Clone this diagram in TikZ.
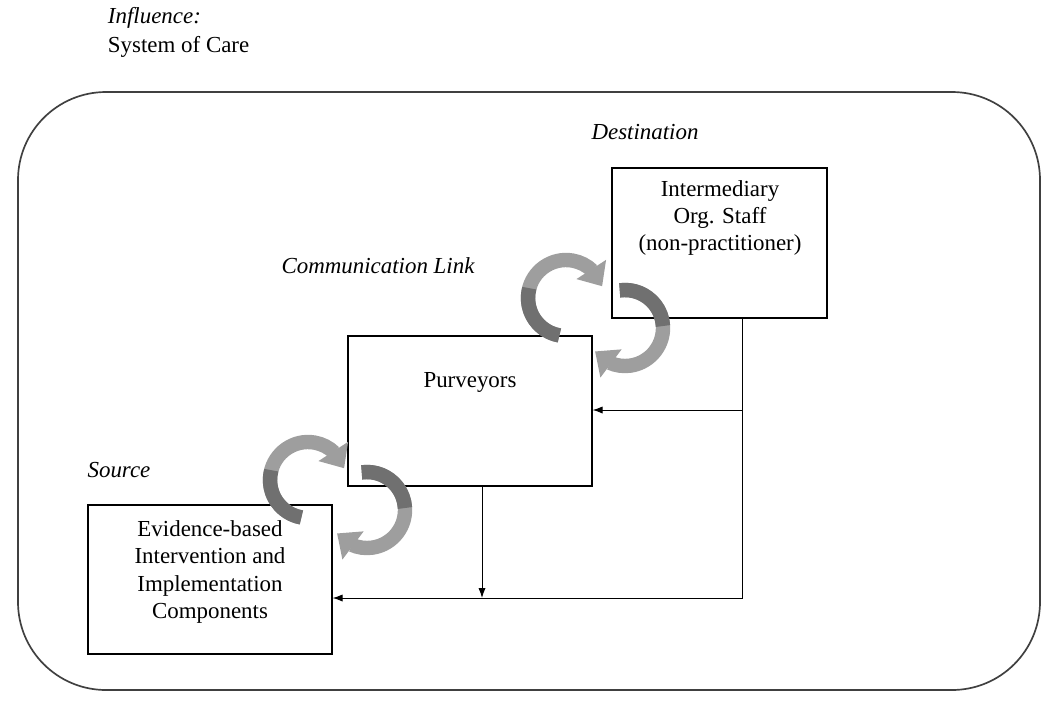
\documentclass[tikz,border=0pt]{standalone}
\usepackage{fontspec}
\setmainfont{Liberation Serif}
\usetikzlibrary{arrows.meta, bending}
\definecolor{ribbonlight}{RGB}{158,158,158}
\definecolor{ribbondark}{RGB}{112,112,112}
\newcommand{\diagfont}{\fontsize{16.3}{19.5}\selectfont}
\tikzset{
  box/.style = {draw, line width=0.8pt, rectangle, inner sep=0pt},
  lbl/.style = {font=\diagfont\itshape},
  txt/.style = {align=center},
  link/.style = {line width=0.7pt, -{Latex[length=0.25cm,width=0.18cm]}},
  ribbon/.style = {line width=0.36cm, ribbonlight, -{Triangle[width=0.85cm,length=0.5cm,flex]}},
  ribbontail/.style = {line width=0.36cm, ribbondark}
}
\begin{document}
\begin{tikzpicture}[x=0.025cm, y=-0.025cm, font=\diagfont]
        \useasboundingbox (0, 0) rectangle (1046, 706);
        % system of care frame
        \draw [line width=1.2pt, black!75, rounded corners=2.2cm] (18, 92) rectangle (1040, 690);
        \node [lbl, anchor=west] (infl) at (103, 18) {Influence:};
        \node [anchor=west] (soc) at (103, 47) {System of Care};
        % boxes
        \node [box, minimum width=5.375cm, minimum height=3.75cm] (inter) at (719.5, 243) {};
        \node [box, minimum width=6.1cm, minimum height=3.75cm] (purv) at (470, 411) {};
        \node [box, minimum width=6.1cm, minimum height=3.725cm] (evid) at (210, 579.5) {};
        \node [txt] (interTxt) at (720, 218) {Intermediary\\Org. Staff\\(non-practitioner)};
        \node [txt] (purvTxt) at (470, 382) {Purveyors};
        \node [txt] (evidTxt) at (210, 572) {Evidence-based\\Intervention and\\Implementation\\Components};
        \node [lbl] (dest) at (645, 132) {Destination};
        \node [lbl] (comm) at (378, 266) {Communication Link};
        \node [lbl] (src) at (119, 470) {Source};
        % connectors
        \coordinate (split) at (742, 410);
        \coordinate (corner) at (742, 598);
        \coordinate (join) at (482, 598);
        \draw [link] (inter.south -| split) -- (corner) -- (evid.east |- corner);
        \draw [link] (split) -- (purv.east |- split);
        \draw [link] (purv.south -| join) -- (join);
        % circular arrows
        \foreach \dx/\dy in {0/0, -258/182} {
            \begin{scope}[shift={(\dx, \dy)}]
                \draw [ribbon] ([shift={(100:38)}]566, 298) arc [start angle=100, end angle=342, radius=38];
                \draw [ribbontail] ([shift={(100:38)}]566, 298) arc [start angle=100, end angle=195, radius=38];
                \draw [ribbon] ([shift={(262:38)}]625, 328) arc [start angle=262, end angle=502, radius=38];
                \draw [ribbontail] ([shift={(262:38)}]625, 328) arc [start angle=262, end angle=357, radius=38];
            \end{scope}
        }
\end{tikzpicture}
\end{document}
